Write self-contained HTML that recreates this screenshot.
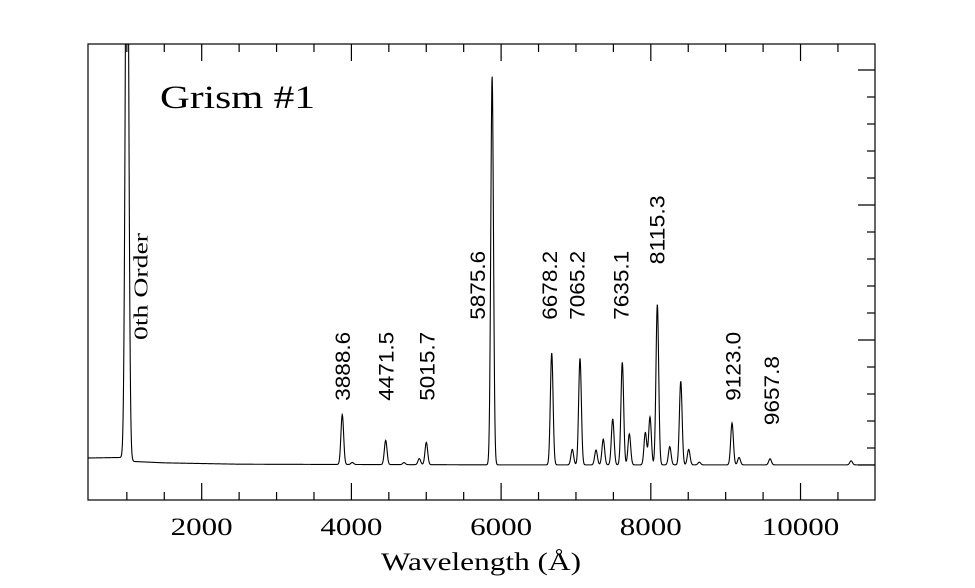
<!DOCTYPE html>
<html><head><meta charset="utf-8"><style>
html,body{margin:0;padding:0;background:#fff;}
svg{display:block;}
text{fill:#000;}
</style></head><body>
<svg id="chart" width="975" height="588" viewBox="0 0 975 588" xmlns="http://www.w3.org/2000/svg">
<defs><clipPath id="clip"><rect x="88" y="44" width="787" height="456"/></clipPath></defs>
<g id="plot"></g>
</svg>
<script>
// Data arrays
const xTickValues = [2000, 4000, 6000, 8000, 10000];
const xTickLabels = ["2000", "4000", "6000", "8000", "10000"];
const yMajorTicks = [0, 1, 2, 3];
const baselineW = [480, 950, 1100, 1500, 2500, 6000, 11000];
const baselineV = [0.126, 0.13, 0.1, 0.09, 0.08, 0.075, 0.075];
const peakW = [1002, 3878, 4012, 4458, 4703, 4907, 5001, 5880, 6676, 6951, 7054, 7268, 7365, 7491, 7619, 7713, 7927, 7989, 8087, 8253, 8400, 8506, 8648, 9085, 9179, 9593, 10676];
const peakA = [5.0, 0.37, 0.015, 0.18, 0.015, 0.045, 0.165, 2.88, 0.83, 0.115, 0.79, 0.11, 0.19, 0.34, 0.76, 0.23, 0.24, 0.355, 1.19, 0.135, 0.62, 0.115, 0.02, 0.31, 0.055, 0.045, 0.03];
const lineLabels = ["0th Order", "3888.6", "4471.5", "5015.7", "5875.6", "6678.2", "7065.2", "7635.1", "8115.3", "9123.0", "9657.8"];
const labelW = [1180, 3888, 4471, 5015, 5690, 6650, 7020, 7610, 8090, 9105, 9620];
const labelV = [1.0, 0.55, 0.55, 0.55, 1.15, 1.15, 1.15, 1.15, 1.56, 0.55, 0.37];

const NS = "http://www.w3.org/2000/svg";
const L = 88, R = 875, T = 44, B = 500;
const xMin = 481, xMax = 10995;
function xs(w){ return L + (w - xMin) / (xMax - xMin) * (R - L); }
function ys(v){ return 475 - v * 135; }
const g = document.getElementById('plot');
function mk(tag, attrs){ const e = document.createElementNS(NS, tag); for (const k in attrs) e.setAttribute(k, attrs[k]); g.appendChild(e); return e; }

function base(w){
  for (let i = 0; i < baselineW.length - 1; i++) {
    if (w <= baselineW[i+1]) { const t = (w - baselineW[i]) / (baselineW[i+1] - baselineW[i]); return baselineV[i] + t * (baselineV[i+1] - baselineV[i]); }
  }
  return baselineV[baselineV.length - 1];
}
function flux(w){
  let v = base(w);
  for (let i = 0; i < peakW.length; i++) { const s = i === 0 ? 22 : 18; const d = (w - peakW[i]) / s; v += peakA[i] * Math.exp(-0.5 * d * d); }
  return v;
}
let d = "";
for (let w = xMin; w <= xMax; w += 4) { d += (d ? "L" : "M") + xs(w).toFixed(2) + "," + ys(flux(w)).toFixed(2); }
const spec = mk('path', {d: d, fill: 'none', stroke: '#000', 'stroke-width': 1.1, 'clip-path': 'url(#clip)'});



// frame
const fr = mk('rect', {x: L, y: T, width: R - L, height: B - T, fill: 'none', stroke: '#000', 'stroke-width': 1.2});



// x ticks
for (let w = 1000; w <= 11000; w += 500) {
  const x = xs(w); if (x < L || x > R) continue;
  const major = (w % 2000 === 0);
  const len = major ? 17 : 8;
  const t1 = mk('line', {x1: x, x2: x, y1: B, y2: B - len, stroke: '#000', 'stroke-width': 1.2});
  
  
  const t2 = mk('line', {x1: x, x2: x, y1: T, y2: T + len, stroke: '#000', 'stroke-width': 1.2});
  
  
}
xTickValues.forEach((w, i) => {
  const t = mk('text', {x: xs(w), y: 535, 'text-anchor': 'middle', 'font-family': 'Liberation Serif, serif', 'font-size': 25, textLength: xTickLabels[i].length * 15.5, lengthAdjust: 'spacingAndGlyphs'});
  t.textContent = xTickLabels[i];
  
  
});
// y ticks right
for (let k = 1; k <= 16; k++) {
  const v = k * 0.2; const y = ys(v); if (y < T) continue;
  const major = yMajorTicks.indexOf(Math.round(v * 10) / 10) >= 0;
  const t = mk('line', {x1: R, x2: R - (major ? 17 : 8), y1: y, y2: y, stroke: '#000', 'stroke-width': 1.2});
  
  
}
const z = mk('line', {x1: R, x2: R - 17, y1: 465, y2: 465, stroke: '#000', 'stroke-width': 1.2});



// labels
lineLabels.forEach((s, i) => {
  const x = xs(labelW[i]), y = ys(labelV[i]);
  const isOrder = i === 0;
  const t = mk('text', {x: 0, y: 0, transform: `translate(${(x + 7).toFixed(1)},${y.toFixed(1)}) rotate(-90)`, 'font-family': isOrder ? 'Liberation Serif, serif' : 'Liberation Sans, sans-serif', 'font-size': isOrder ? 20 : 21, textLength: isOrder ? 107 : 69, lengthAdjust: 'spacingAndGlyphs'});
  t.textContent = s;
  
  
});

const title = mk('text', {x: 160, y: 108, 'font-family': 'Liberation Serif, serif', 'font-size': 33, textLength: 155, lengthAdjust: 'spacingAndGlyphs'});
title.textContent = 'Grism #1';



const xl = mk('text', {x: 481, y: 570, 'text-anchor': 'middle', 'font-family': 'Liberation Serif, serif', 'font-size': 25, textLength: 200, lengthAdjust: 'spacingAndGlyphs'});
xl.textContent = 'Wavelength (Å)';


</script>
</body></html>
